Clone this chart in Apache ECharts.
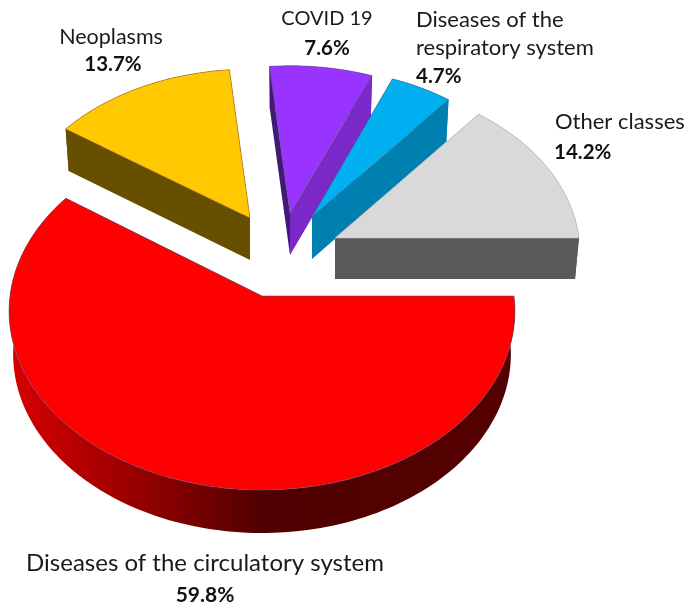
<!DOCTYPE html>
<html>
<head>
<meta charset="utf-8">
<style>html,body{margin:0;padding:0;background:#fff}#c{width:691px;height:609px}</style>
<script src="https://cdn.jsdelivr.net/npm/echarts@6/dist/echarts.min.js"></script>
</head>
<body>
<div id="c"></div>
<script>
// Data
var categories = ['Diseases of the circulatory system', 'Neoplasms', 'COVID 19', 'Diseases of the\nrespiratory system', 'Other classes'];
var shares = [59.8, 13.7, 7.6, 4.7, 14.2];

// Styles
var topColors = ['#ff0000', '#ffc800', '#9933ff', '#00b0f0', '#d9d9d9'];
var topStrokes = ['rgba(80,80,130,.55)', 'rgba(130,80,40,.45)', 'rgba(90,90,110,.55)', 'rgba(70,90,120,.5)', 'rgba(190,190,190,.6)'];
var startWalls = ['#550000', '#665000', '#40197a', '#0080b0', '#595959'];
var endWalls = ['#550000', '#665000', '#7a28c8', '#0080b0', '#595959'];
var redWall = { type: 'linear', x: 10, y: 0, x2: 514, y2: 0, global: true, colorStops: [
  { offset: 0, color: '#d80000' }, { offset: 0.25, color: '#980000' },
  { offset: 0.5, color: '#500000' }, { offset: 1, color: '#550000' }] };
var arcWalls = [redWall, '#665000', '#7a28c8', '#0080b0', '#595959'];

// Layout: exploded apex of each slice and perspective fitting
var apexX = [262, 250, 290, 312, 335];
var apexY = [296, 218, 213, 217, 238];
var scaleX = [1, 0.94, 0.94, 0.92, 0.968];
var scaleY = [1, 0.91, 0.90, 0.905, 0.955];
var depth = [43, 42, 42, 42, 41];
var RX = 252, RY = 177.5, PERSP = 0.085, SHRINK = 0.016;

// Labels
var nameLayout = [
  { x: 205, y: 563, align: 'center', size: 24 },
  { x: 111, y: 37, align: 'center', size: 21.5 },
  { x: 327, y: 19, align: 'center', size: 20 },
  { x: 416, y: 20, align: 'left', size: 22, lh: 28 },
  { x: 555, y: 122, align: 'left', size: 22 }
];
var pctLayout = [
  { x: 205, y: 595, align: 'center', size: 21 },
  { x: 113, y: 64, align: 'center', size: 20.5 },
  { x: 327, y: 48, align: 'center', size: 20.5 },
  { x: 416, y: 76, align: 'left', size: 20.5 },
  { x: 554, y: 152, align: 'left', size: 20.5 }
];
var FONT = 'Lato, "Open Sans", sans-serif';

function project(i, theta) {
  var u = Math.cos(theta), v = -Math.sin(theta), w = 1 + PERSP * v;
  return [u * RX * scaleX[i] / w, -v * RY * scaleY[i] / w];
}
function topPt(i, p) { return [apexX[i] + p[0], apexY[i] + p[1]]; }
function botPt(i, p) { return [apexX[i] + p[0] * (1 - SHRINK), apexY[i] + p[1] + depth[i]]; }
function poly(points, fill, stroke) {
  return { type: 'polygon', shape: { points: points }, style: { fill: fill, stroke: stroke || null, lineWidth: stroke ? 1 : 0 } };
}

var total = shares.reduce(function (a, b) { return a + b; }, 0);

function renderItem(params, api) {
  var i = params.dataIndex, before = 0;
  for (var j = 0; j < i; j++) before += shares[j];
  var val = api.value(0);
  var a0 = before / total * 2 * Math.PI, a1 = (before + val) / total * 2 * Math.PI;
  var n = Math.max(12, Math.round((a1 - a0) * 40));
  var arc = [];
  for (var s = 0; s <= n; s++) arc.push(project(i, a0 + (a1 - a0) * s / n));
  var first = arc[0], last = arc[n], O = [0, 0];
  var children = [];
  // outer wall
  var wall = arc.map(function (p) { return topPt(i, p); });
  for (var b = n; b >= 0; b--) wall.push(botPt(i, arc[b]));
  children.push(poly(wall, arcWalls[i]));
  // radial walls
  children.push(poly([topPt(i, O), topPt(i, last), botPt(i, last), botPt(i, O)], endWalls[i]));
  children.push(poly([topPt(i, O), topPt(i, first), botPt(i, first), botPt(i, O)], startWalls[i]));
  // top face
  var face = [topPt(i, O)].concat(arc.map(function (p) { return topPt(i, p); }));
  children.push(poly(face, topColors[i], topStrokes[i]));
  // labels
  var nl = nameLayout[i], pl = pctLayout[i];
  var lines = categories[i].split('\n');
  lines.forEach(function (t, k) {
    children.push({ type: 'text', style: { x: nl.x, y: nl.y + k * (nl.lh || 0), text: t, align: nl.align, verticalAlign: 'middle',
      font: nl.size + 'px ' + FONT, fill: '#1a1a1a' } });
  });
  children.push({ type: 'text', style: { x: pl.x, y: pl.y, text: val.toFixed(1) + '%', align: pl.align, verticalAlign: 'middle',
    font: 'bold ' + pl.size + 'px ' + FONT, fill: '#111' } });
  return { type: 'group', children: children };
}

var chart = echarts.init(document.getElementById('c'), null, { renderer: 'canvas' });
chart.setOption({
  animation: false,
  backgroundColor: '#fff',
  series: [{
    type: 'custom',
    coordinateSystem: 'none',
    renderItem: renderItem,
    data: shares.map(function (v, i) { return { name: categories[i], value: [v] }; })
  }]
});
</script>
</body>
</html>
